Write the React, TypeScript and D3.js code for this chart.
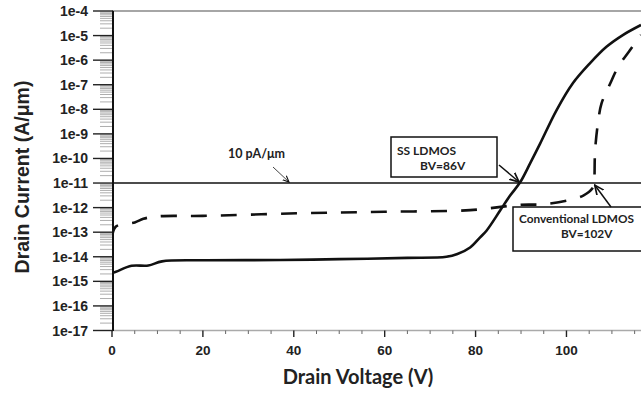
import React from 'react';
import * as d3 from 'd3';

// chart values
const yTickLabels = ['1e-4', '1e-5', '1e-6', '1e-7', '1e-8', '1e-9', '1e-10', '1e-11', '1e-12', '1e-13', '1e-14', '1e-15', '1e-16', '1e-17'];
const xTickValues = [0, 20, 40, 60, 80, 100];

const ssVoltage = [0, 0, 0.4, 4.3, 8, 11, 20, 37, 50, 65, 73.6, 76, 78.8, 81, 82.4, 85.4, 87.6, 89.8, 92, 94.2, 97.8, 101.4, 105.2, 108.8, 112.4, 116.4];
const ssCurrent = [1e-17, 2.3e-15, 2.3e-15, 4.3e-15, 4.4e-15, 6.5e-15, 7.2e-15, 7.4e-15, 8e-15, 9e-15, 1.0e-14, 1.3e-14, 2.4e-14, 6.2e-14, 1.15e-13, 7.6e-13, 3.1e-12, 1.07e-11, 6.3e-11, 4e-10, 9.1e-9, 1.15e-7, 7.6e-7, 3.5e-6, 1.05e-5, 2.7e-5];

const convVoltage = [0, 0.8, 5, 6.9, 10, 20, 41, 60, 78.8, 89.8, 95.6, 103.7, 105.9, 106.1, 106.3, 107, 107.7, 109.6, 111.4, 114, 116.4];
const convCurrent = [5.2e-14, 1.66e-13, 2.5e-13, 3.5e-13, 4.4e-13, 4.6e-13, 5.9e-13, 6.8e-13, 7.9e-13, 1.3e-12, 1.4e-12, 3.1e-12, 6.8e-12, 1.07e-11, 2.1e-10, 3.5e-9, 1.7e-8, 1.1e-7, 5.4e-7, 2.6e-6, 1.05e-5];

const criterion = 1e-11; // 10 pA/um

const W = 641;
const H = 394;

export default function App() {
  const x = d3.scaleLinear().domain([0, 116.4]).range([112, 641]);
  const y = d3.scaleLog().domain([1e-17, 1e-4]).range([330.5, 11]);

  const line = d3.line<number>()
    .x(i => x(i[0]))
    .y(i => y(i[1]))
    .curve(d3.curveCatmullRom.alpha(0.5));

  const ssPts = ssVoltage.map((v, i) => [v, ssCurrent[i]]);
  const convPts = convVoltage.map((v, i) => [v, convCurrent[i]]);

  const majorY = d3.range(-4, -18, -1).map(e => Math.pow(10, e));
  const minorY: number[] = [];
  for (let e = -17; e < -4; e++) {
    for (let k = 2; k <= 9; k++) minorY.push(k * Math.pow(10, e));
  }
  const minorX = d3.range(5, 116, 5).filter(v => v % 20 !== 0);

  const sans = 'Liberation Sans, Arial, sans-serif';
  const callout = 'Lato, Open Sans, sans-serif';

  return (
    <svg width={W} height={H} style={{ position: 'absolute', left: 0, top: 0, background: '#fff' }}>
      <defs>
        <marker id="ah" viewBox="0 0 10 10" refX="9" refY="5" markerWidth="7" markerHeight="7" orient="auto">
          <path d="M0,1 L9,5 L0,9" fill="none" stroke="#111" strokeWidth="1.6" />
        </marker>
        <clipPath id="plot">
          <rect x={112} y={10} width={530} height={322} />
        </clipPath>
      </defs>

      {/* frame */}
      <line x1={112} x2={W} y1={11} y2={11} stroke="#888" strokeWidth={1.5} />
      <line x1={112} x2={W} y1={330.5} y2={330.5} stroke="#aaa" strokeWidth={1.5} />

      {/* y minor ticks */}
      {minorY.map((v, i) => (
        <line key={'my' + i} x1={100} x2={112} y1={y(v)} y2={y(v)} stroke="#999" strokeWidth={0.8} />
      ))}
      {/* y major ticks + labels */}
      {majorY.map((v, i) => (
        <g key={'y' + i}>
          <line x1={93} x2={113} y1={y(v)} y2={y(v)} stroke="#222" strokeWidth={1.4} />
          <text x={88} y={y(v) + 5} textAnchor="end" fontFamily={sans} fontWeight="bold" fontSize={14} fill="#222">
            {yTickLabels[i]}
          </text>
        </g>
      ))}
      <line x1={113} x2={113} y1={11} y2={331} stroke="#111" strokeWidth={2} />

      {/* x ticks */}
      {minorX.map(v => (
        <line key={'mx' + v} x1={x(v)} x2={x(v)} y1={330.5} y2={334} stroke="#666" strokeWidth={1} />
      ))}
      {xTickValues.map(v => (
        <g key={'x' + v}>
          <line x1={x(v)} x2={x(v)} y1={330.5} y2={337} stroke="#222" strokeWidth={1.4} />
          <text x={x(v)} y={355} textAnchor="middle" fontFamily={sans} fontWeight="bold" fontSize={13.5} fill="#222">
            {v}
          </text>
        </g>
      ))}

      {/* axis titles */}
      <text transform="translate(29,177) rotate(-90)" textAnchor="middle" fontFamily={sans} fontWeight="bold" fontSize={19.5} fill="#222">
        Drain Current (A/μm)
      </text>
      <text x={358} y={384} textAnchor="middle" fontFamily={callout} fontWeight="bold" fontSize={20} fill="#222">
        Drain Voltage (V)
      </text>

      {/* 10 pA/um criterion */}
      <line x1={113} x2={W} y1={y(criterion)} y2={y(criterion)} stroke="#111" strokeWidth={1.5} />
      <text x={228} y={158} fontFamily={callout} fontWeight="bold" fontSize={12.5} fill="#222">10 pA/μm</text>
      <line x1={273} y1={167} x2={289} y2={y(criterion) - 1} stroke="#444" strokeWidth={1} markerEnd="url(#ah)" />

      {/* curves */}
      <g clipPath="url(#plot)">
        <path d={line(convPts as any) || ''} fill="none" stroke="#111" strokeWidth={2.6} strokeDasharray="16,14" />
        <path d={line(ssPts as any) || ''} fill="none" stroke="#111" strokeWidth={2.6} />
      </g>

      {/* callouts */}
      <rect x={391} y={137} width={106} height={40} fill="#fff" stroke="#111" strokeWidth={1.5} />
      <text x={397} y={155} fontFamily={callout} fontWeight="bold" fontSize={12} fill="#222">SS LDMOS</text>
      <text x={420} y={170} fontFamily={callout} fontWeight="bold" fontSize={12} fill="#222">BV=86V</text>
      <line x1={499} y1={165} x2={x(89.8) - 1} y2={y(criterion) - 1} stroke="#111" strokeWidth={1.5} markerEnd="url(#ah)" />

      <rect x={513} y={207} width={140} height={44} fill="#fff" stroke="#111" strokeWidth={1.5} />
      <text x={519} y={223} fontFamily={callout} fontWeight="bold" fontSize={11.8} fill="#222">Conventional LDMOS</text>
      <text x={561} y={238} fontFamily={callout} fontWeight="bold" fontSize={11.8} fill="#222">BV=102V</text>
      <line x1={611} y1={207} x2={x(106) + 1} y2={y(criterion) + 2} stroke="#111" strokeWidth={1.5} markerEnd="url(#ah)" />
    </svg>
  );
}
